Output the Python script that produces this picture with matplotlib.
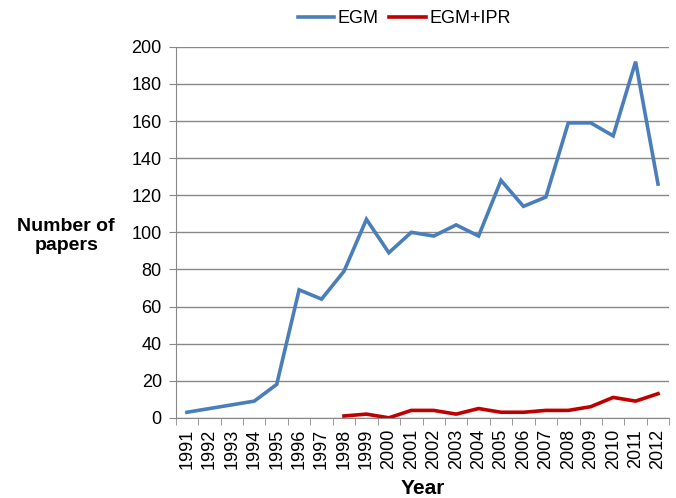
import numpy as np
import matplotlib.pyplot as plt

plt.rcParams['font.family'] = ['Liberation Sans', 'DejaVu Sans']

# 数据
years = [str(y) for y in range(1991, 2013)]
egm = [3, 5, 7, 9, 18, 69, 64, 79, 107, 89, 100, 98, 104, 98, 128, 114, 119, 159, 159, 152, 192, 126]
ipr_years = [str(y) for y in range(1998, 2013)]
egm_ipr = [1, 2, 0, 4, 4, 2, 5, 3, 3, 4, 4, 6, 11, 9, 13]

fig = plt.figure(figsize=(6.76, 4.98), dpi=100)
ax = fig.add_axes([0.260, 0.161, 0.730, 0.745])

x = np.arange(len(years))
x_ipr = np.arange(len(years) - len(ipr_years), len(years))
ax.plot(x, egm, color='#4a7ebb', lw=2.6, label='EGM', solid_joinstyle='miter')
ax.plot(x_ipr, egm_ipr, color='#c00000', lw=2.6, label='EGM+IPR')

ax.set_xlim(-0.5, len(years) - 0.5)
ax.set_ylim(0, 200)
ax.set_yticks(range(0, 201, 20))
ax.set_xticks(x)
ax.set_xticklabels(years, rotation=90, fontsize=13)
ax.set_xticks(np.arange(-0.5, len(years), 1), minor=True)
ax.tick_params(axis='x', which='major', length=0, pad=8)
ax.tick_params(axis='x', which='minor', length=5, color='#888888')
ax.tick_params(axis='y', length=5, color='#888888', labelsize=13, pad=5)

ax.grid(axis='y', color='#888888', lw=1)
ax.set_axisbelow(True)
for s in ['top', 'right']:
    ax.spines[s].set_visible(False)
for s in ['left', 'bottom']:
    ax.spines[s].set_color('#888888')

ax.set_xlabel('Year', fontsize=15, fontweight='bold', labelpad=7)
ax.set_ylabel('Number of\npapers', fontsize=14, fontweight='bold', rotation=0,
              ha='center', va='center', labelpad=0, linespacing=1.1)
ax.yaxis.set_label_coords(-0.222, 0.49)

fig.legend(loc='center', bbox_to_anchor=(0.598, 0.962), ncol=2, frameon=False,
           fontsize=13, handlelength=2.0, handletextpad=0.2, columnspacing=0.6)

fig.savefig('out.png', dpi=100)
